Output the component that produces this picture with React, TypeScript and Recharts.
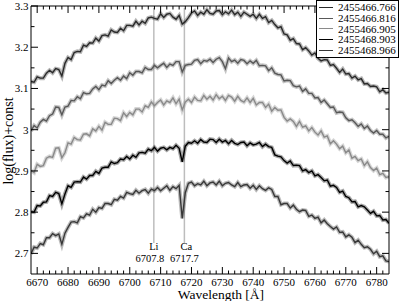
import React from 'react';
import { LineChart, Line, XAxis, YAxis, ReferenceLine, Legend, Label } from 'recharts';

// wavelength grid (Å), 1 Å sampling from 6668 to 6784
const wavelengths: number[] = Array.from({ length: 117 }, (_, i) => 6668 + i);

const seriesNames = ['2455466.766', '2455466.816', '2455466.905', '2455468.903', '2455468.966'];
const seriesColors = ['#2a2a2a', '#585858', '#8a8a8a', '#000000', '#383838'];

const s1 = [
  3.117, 3.115, 3.128, 3.125, 3.125, 3.137, 3.144, 3.138, 3.148, 3.146,
  3.130, 3.161, 3.175, 3.170, 3.187, 3.190, 3.189, 3.205, 3.202, 3.211,
  3.210, 3.222, 3.215, 3.228, 3.230, 3.227, 3.242, 3.237, 3.236, 3.246,
  3.240, 3.253, 3.253, 3.251, 3.263, 3.254, 3.263, 3.258, 3.271, 3.273,
  3.270, 3.268, 3.281, 3.272, 3.280, 3.282, 3.273, 3.268, 3.277, 3.256,
  3.262, 3.272, 3.283, 3.288, 3.277, 3.285, 3.280, 3.291, 3.282, 3.280,
  3.288, 3.289, 3.279, 3.286, 3.281, 3.290, 3.279, 3.285, 3.275, 3.285,
  3.280, 3.275, 3.280, 3.270, 3.280, 3.270, 3.274, 3.260, 3.265, 3.255,
  3.247, 3.250, 3.232, 3.230, 3.217, 3.221, 3.209, 3.208, 3.194, 3.199,
  3.191, 3.181, 3.186, 3.173, 3.167, 3.170, 3.169, 3.156, 3.158, 3.149,
  3.139, 3.147, 3.135, 3.136, 3.125, 3.130, 3.121, 3.124, 3.111, 3.112,
  3.105, 3.106, 3.104, 3.092, 3.097, 3.089, 3.091,
];
const s2 = [
  2.997, 3.010, 3.004, 3.018, 3.025, 3.021, 3.034, 3.038, 3.055, 3.054,
  3.036, 3.055, 3.057, 3.071, 3.070, 3.080, 3.075, 3.090, 3.087, 3.088,
  3.099, 3.105, 3.097, 3.108, 3.106, 3.119, 3.112, 3.120, 3.126, 3.120,
  3.130, 3.124, 3.138, 3.132, 3.141, 3.141, 3.138, 3.151, 3.146, 3.146,
  3.156, 3.150, 3.156, 3.161, 3.151, 3.159, 3.156, 3.165, 3.165, 3.140,
  3.156, 3.158, 3.159, 3.168, 3.170, 3.160, 3.168, 3.166, 3.171, 3.163,
  3.171, 3.175, 3.165, 3.148, 3.174, 3.165, 3.169, 3.161, 3.170, 3.168,
  3.160, 3.167, 3.161, 3.168, 3.155, 3.156, 3.155, 3.143, 3.150, 3.137,
  3.134, 3.133, 3.118, 3.120, 3.119, 3.107, 3.104, 3.106, 3.093, 3.099,
  3.088, 3.088, 3.077, 3.078, 3.066, 3.072, 3.063, 3.054, 3.055, 3.041,
  3.043, 3.042, 3.029, 3.022, 3.024, 3.017, 3.008, 3.014, 3.003, 3.009,
  2.998, 2.992, 2.998, 2.989, 2.989, 2.980, 2.984,
];
const s3 = [
  2.901, 2.896, 2.916, 2.911, 2.913, 2.931, 2.935, 2.933, 2.955, 2.956,
  2.932, 2.944, 2.968, 2.965, 2.981, 2.976, 2.975, 2.989, 2.990, 2.985,
  3.002, 2.997, 3.008, 2.999, 3.018, 3.013, 3.013, 3.028, 3.027, 3.022,
  3.041, 3.032, 3.042, 3.036, 3.050, 3.050, 3.043, 3.058, 3.054, 3.067,
  3.058, 3.066, 3.072, 3.060, 3.070, 3.066, 3.077, 3.063, 3.074, 3.048,
  3.067, 3.074, 3.066, 3.079, 3.071, 3.070, 3.083, 3.074, 3.081, 3.072,
  3.085, 3.075, 3.081, 3.071, 3.083, 3.079, 3.069, 3.081, 3.071, 3.067,
  3.077, 3.066, 3.076, 3.060, 3.066, 3.066, 3.054, 3.062, 3.045, 3.054,
  3.047, 3.048, 3.030, 3.021, 3.026, 3.020, 3.008, 3.020, 3.006, 3.009,
  2.997, 3.005, 2.994, 2.987, 2.997, 2.982, 2.985, 2.966, 2.973, 2.965,
  2.954, 2.960, 2.944, 2.951, 2.931, 2.935, 2.925, 2.929, 2.913, 2.922,
  2.908, 2.901, 2.907, 2.891, 2.894, 2.884, 2.886,
];
const s4 = [
  2.801, 2.800, 2.816, 2.815, 2.824, 2.825, 2.840, 2.838, 2.848, 2.845,
  2.820, 2.844, 2.864, 2.860, 2.873, 2.874, 2.873, 2.885, 2.880, 2.889,
  2.889, 2.899, 2.894, 2.907, 2.909, 2.909, 2.922, 2.918, 2.920, 2.929,
  2.927, 2.935, 2.929, 2.938, 2.933, 2.944, 2.945, 2.943, 2.953, 2.949,
  2.957, 2.948, 2.955, 2.957, 2.951, 2.957, 2.954, 2.962, 2.955, 2.922,
  2.960, 2.969, 2.967, 2.973, 2.967, 2.976, 2.970, 2.969, 2.977, 2.976,
  2.969, 2.977, 2.970, 2.974, 2.966, 2.974, 2.967, 2.964, 2.969, 2.970,
  2.961, 2.968, 2.963, 2.965, 2.969, 2.959, 2.965, 2.959, 2.957, 2.939,
  2.936, 2.934, 2.925, 2.919, 2.924, 2.913, 2.914, 2.913, 2.900, 2.903,
  2.896, 2.900, 2.888, 2.891, 2.884, 2.876, 2.878, 2.863, 2.865, 2.860,
  2.848, 2.851, 2.838, 2.835, 2.825, 2.826, 2.813, 2.816, 2.813, 2.805,
  2.797, 2.802, 2.791, 2.792, 2.781, 2.782, 2.773,
];
const s5 = [
  2.699, 2.715, 2.713, 2.724, 2.721, 2.738, 2.738, 2.748, 2.743, 2.747,
  2.722, 2.749, 2.763, 2.776, 2.777, 2.774, 2.789, 2.786, 2.796, 2.793,
  2.807, 2.800, 2.811, 2.809, 2.821, 2.821, 2.818, 2.831, 2.829, 2.838,
  2.834, 2.848, 2.845, 2.843, 2.853, 2.846, 2.852, 2.855, 2.846, 2.856,
  2.852, 2.860, 2.852, 2.858, 2.864, 2.853, 2.862, 2.857, 2.865, 2.785,
  2.847, 2.870, 2.873, 2.864, 2.869, 2.866, 2.875, 2.864, 2.871, 2.873,
  2.866, 2.875, 2.864, 2.870, 2.872, 2.866, 2.862, 2.872, 2.862, 2.866,
  2.867, 2.858, 2.865, 2.855, 2.864, 2.857, 2.853, 2.859, 2.855, 2.838,
  2.838, 2.818, 2.821, 2.821, 2.810, 2.817, 2.807, 2.801, 2.805, 2.804,
  2.790, 2.793, 2.785, 2.788, 2.774, 2.781, 2.772, 2.765, 2.759, 2.764,
  2.751, 2.752, 2.740, 2.745, 2.739, 2.726, 2.732, 2.722, 2.714, 2.716,
  2.710, 2.699, 2.705, 2.692, 2.694, 2.682, 2.680,
];

const xDomain = [6668, 6784];
const yDomain = [2.65, 3.3];
const xTicks = [
  6670, 6672, 6674, 6676, 6678, 6680, 6682, 6684, 6686, 6688, 6690, 6692, 6694, 6696, 6698,
  6700, 6702, 6704, 6706, 6708, 6710, 6712, 6714, 6716, 6718, 6720, 6722, 6724, 6726, 6728,
  6730, 6732, 6734, 6736, 6738, 6740, 6742, 6744, 6746, 6748, 6750, 6752, 6754, 6756, 6758,
  6760, 6762, 6764, 6766, 6768, 6770, 6772, 6774, 6776, 6778, 6780, 6782,
];
const yTicks = [2.7, 2.75, 2.8, 2.85, 2.9, 2.95, 3, 3.05, 3.1, 3.15, 3.2, 3.25, 3.3];

const refNames = ['Li', 'Ca'];
const refWavelengths = [6707.8, 6717.7];
const refLineBottom = 2.725;
const refLineTop = 3.295;

const seriesValues = [s1, s2, s3, s4, s5];
const data = wavelengths.map((wl, i) => {
  const row: Record<string, number> = { wl };
  seriesValues.forEach((arr, k) => {
    row['s' + (k + 1)] = arr[i];
  });
  return row;
});

const FONT = "'Liberation Serif', 'Times New Roman', Times, serif";
const isMajorX = (v: number) => Math.abs(v % 10) < 1e-6;
const isMajorY = (v: number) => Math.abs(v * 10 - Math.round(v * 10)) < 1e-6;

const txtStyle = { fontFamily: FONT };

const BottomTick = (p: any) => {
  const v = p.payload.value;
  const major = isMajorX(v);
  return (
    <g>
      <line x1={p.x} x2={p.x} y1={p.y} y2={p.y - (major ? 7 : 3.5)} stroke="#000" strokeWidth={1} />
      {major && (
        <text x={p.x} y={p.y + 11.5} textAnchor="middle" fontSize={11} style={txtStyle} fill="#000">
          {v}
        </text>
      )}
    </g>
  );
};
const TopTick = (p: any) => {
  const major = isMajorX(p.payload.value);
  return <line x1={p.x} x2={p.x} y1={p.y} y2={p.y + (major ? 7 : 3.5)} stroke="#000" strokeWidth={1} />;
};
const LeftTick = (p: any) => {
  const v = p.payload.value;
  const major = isMajorY(v);
  return (
    <g>
      <line x1={p.x} x2={p.x + (major ? 7 : 3.5)} y1={p.y} y2={p.y} stroke="#000" strokeWidth={1} />
      {major && (
        <text x={p.x - 2.5} y={p.y + 4} textAnchor="end" fontSize={11} style={txtStyle} fill="#000">
          {String(v)}
        </text>
      )}
    </g>
  );
};
const RightTick = (p: any) => {
  const major = isMajorY(p.payload.value);
  return <line x1={p.x} x2={p.x - (major ? 7 : 3.5)} y1={p.y} y2={p.y} stroke="#000" strokeWidth={1} />;
};

const makeRefLabel = (name: string, value: number, dxName: number, dxVal: number) => (props: any) => {
  const vb = props.viewBox || {};
  const x = vb.x ?? 0;
  const bottom = (vb.y ?? 0) + (vb.height ?? 0);
  return (
    <g>
      <text x={x + dxName} y={bottom + 6.5} textAnchor="middle" fontSize={10.5} style={txtStyle} fill="#000">
        {name}
      </text>
      <text x={x + dxVal} y={bottom + 18.5} textAnchor="middle" fontSize={10.5} style={txtStyle} fill="#000">
        {value.toFixed(1)}
      </text>
    </g>
  );
};

const LegendBox = () => (
  <div
    style={{
      width: 83,
      boxSizing: 'border-box',
      border: '1px solid #000',
      background: '#fff',
      padding: '1px 0',
      fontFamily: FONT,
      fontSize: 11,
      color: '#000',
    }}
  >
    {seriesNames.map((n, i) => (
      <div key={n} style={{ display: 'flex', alignItems: 'center', height: 10.8, lineHeight: '10.8px' }}>
        <span style={{ display: 'inline-block', width: 14, marginLeft: 2, marginRight: 5, borderTop: `1px solid ${seriesColors[i]}` }} />
        <span>{n}</span>
      </div>
    ))}
  </div>
);

export default function App() {
  return (
    <div style={{ position: 'absolute', left: 0, top: 0, width: 399, height: 301, background: '#fff', fontFamily: FONT }}>
      <LineChart width={399} height={301} data={data} margin={{ top: 5, right: 9, bottom: 0, left: 0 }}>
        <XAxis
          xAxisId="bottom"
          dataKey="wl"
          type="number"
          domain={xDomain}
          allowDataOverflow
          ticks={xTicks}
          interval={0}
          tickSize={0}
          tickMargin={0}
          tickLine={false}
          tick={(p: any) => <BottomTick {...p} />}
          height={27}
          axisLine={{ stroke: '#000', strokeWidth: 1 }}
        >
          <Label
            content={() => (
              <text x={221} y={298.5} textAnchor="middle" fontSize={13.5} style={txtStyle} fill="#000">
                Wavelength [Å]
              </text>
            )}
          />
        </XAxis>
        <XAxis
          xAxisId="top"
          orientation="top"
          dataKey="wl"
          type="number"
          domain={xDomain}
          allowDataOverflow
          ticks={xTicks}
          interval={0}
          tickSize={0}
          tickMargin={0}
          tickLine={false}
          tick={(p: any) => <TopTick {...p} />}
          height={1}
          axisLine={{ stroke: '#000', strokeWidth: 1 }}
        />
        <YAxis
          yAxisId="left"
          type="number"
          domain={yDomain}
          allowDataOverflow
          ticks={yTicks}
          interval={0}
          tickSize={0}
          tickMargin={0}
          tickLine={false}
          tick={(p: any) => <LeftTick {...p} />}
          width={31}
          axisLine={{ stroke: '#000', strokeWidth: 1 }}
        >
          <Label
            content={() => (
              <text
                transform="translate(13,141) rotate(-90)"
                textAnchor="middle"
                fontSize={14}
                style={txtStyle}
                fill="#000"
              >
                log(flux)+const
              </text>
            )}
          />
        </YAxis>
        <YAxis
          yAxisId="right"
          orientation="right"
          type="number"
          domain={yDomain}
          allowDataOverflow
          ticks={yTicks}
          interval={0}
          tickSize={0}
          tickMargin={0}
          tickLine={false}
          tick={(p: any) => <RightTick {...p} />}
          width={1}
          axisLine={{ stroke: '#000', strokeWidth: 1 }}
        />
        {refWavelengths.map((wl, i) => (
          <ReferenceLine
            key={refNames[i]}
            xAxisId="bottom"
            yAxisId="left"
            segment={[
              { x: wl, y: refLineBottom },
              { x: wl, y: refLineTop },
            ]}
            stroke="#bdbdbd"
            strokeWidth={1.5}
            label={makeRefLabel(refNames[i], wl, i === 0 ? 0 : 2, i === 0 ? -4 : 0)}
          />
        ))}
        {seriesNames.map((n, i) => (
          <Line
            key={n + '-band'}
            xAxisId="bottom"
            yAxisId="left"
            dataKey={'s' + (i + 1)}
            legendType="none"
            type="linear"
            stroke={seriesColors[i]}
            strokeOpacity={0.35}
            strokeWidth={4}
            dot={false}
            activeDot={false}
            isAnimationActive={false}
          />
        ))}
        {seriesNames.map((n, i) => (
          <Line
            key={n}
            xAxisId="bottom"
            yAxisId="left"
            dataKey={'s' + (i + 1)}
            name={n}
            type="linear"
            stroke={seriesColors[i]}
            strokeWidth={1.4}
            dot={false}
            activeDot={false}
            isAnimationActive={false}
          />
        ))}
        <Legend
          layout="vertical"
          align="center"
          verticalAlign="middle"
          wrapperStyle={{ position: 'absolute', left: 316, top: 0, width: 83, right: 'auto', bottom: 'auto' }}
          content={() => <LegendBox />}
        />
      </LineChart>
    </div>
  );
}
